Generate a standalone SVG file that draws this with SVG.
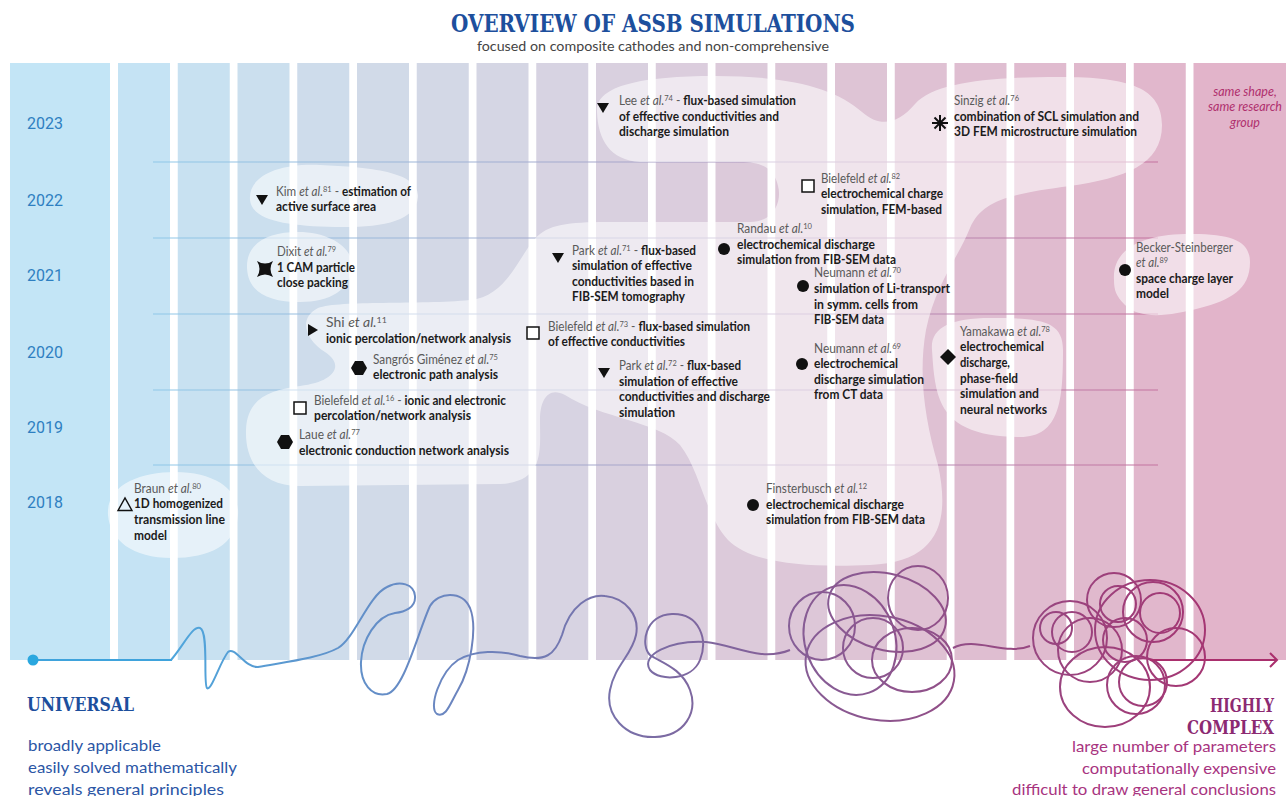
<svg xmlns="http://www.w3.org/2000/svg" width="1286" height="796" viewBox="0 0 1286 796">
<defs>
<style>
.t{font-family:Lato,"Open Sans","Liberation Sans",sans-serif;font-size:12.5px;fill:#5a5a5a}
.b{font-weight:700;fill:#1b1b1b}
.i{font-style:italic}
.sup{font-size:8px}
.yr{font-family:Roboto,"Liberation Sans",sans-serif;font-size:16px;fill:#2e7fc1}
.slab{font-family:"DejaVu Serif Condensed","DejaVu Serif",serif;font-weight:700;font-stretch:condensed}
.blob{fill:#ffffff;fill-opacity:0.55}
.mk{fill:#111}
.mko{fill:#fff;stroke:#111;stroke-width:1.5}
.sq{fill:none;stroke:url(#sg);stroke-width:2}
.yl{stroke:url(#lg);stroke-width:1.2}
</style>
<linearGradient id="lg" gradientUnits="userSpaceOnUse" x1="153" y1="0" x2="1158" y2="0">
<stop offset="0" stop-color="#8fc8e8"/><stop offset="0.5" stop-color="#a9a3c8"/><stop offset="1" stop-color="#c4729f"/>
</linearGradient>
<linearGradient id="sg" gradientUnits="userSpaceOnUse" x1="171" y1="0" x2="1277" y2="0">
<stop offset="0" stop-color="#4fa6dc"/><stop offset="0.25" stop-color="#6b86c0"/><stop offset="0.45" stop-color="#7c6aa2"/><stop offset="0.7" stop-color="#914f88"/><stop offset="1" stop-color="#aa2f6d"/>
</linearGradient>
</defs>
<rect width="1286" height="796" fill="#fff"/>

<!-- title -->
<g id="title">
<text class="slab" x="451" y="32" font-size="25" fill="#1d4f9d" textLength="404" lengthAdjust="spacingAndGlyphs">OVERVIEW OF ASSB SIMULATIONS</text>
<text class="t" x="477" y="51" style="font-size:14px;fill:#444" textLength="352" lengthAdjust="spacingAndGlyphs">focused on composite cathodes and non-comprehensive</text>
</g>

<!-- columns -->
<g id="columns">
<rect x="10" y="63" width="100" height="597" fill="#c3e5f6"/>
<rect x="118" y="63" width="52" height="597" fill="#c5e3f4"/>
<rect x="177.75" y="63" width="52" height="597" fill="#c8e1f1"/>
<rect x="237.5" y="63" width="52" height="597" fill="#cbdfee"/>
<rect x="297.25" y="63" width="52" height="597" fill="#cedceb"/>
<rect x="357" y="63" width="52" height="597" fill="#d1dae8"/>
<rect x="416.75" y="63" width="52" height="597" fill="#d3d8e6"/>
<rect x="476.5" y="63" width="52" height="597" fill="#d5d6e4"/>
<rect x="536.25" y="63" width="52" height="597" fill="#d7d3e2"/>
<rect x="596" y="63" width="52" height="597" fill="#d9d0df"/>
<rect x="655.75" y="63" width="52" height="597" fill="#dbcddd"/>
<rect x="715.5" y="63" width="52" height="597" fill="#dccada"/>
<rect x="775.25" y="63" width="52" height="597" fill="#ddc7d8"/>
<rect x="835" y="63" width="52" height="597" fill="#dec4d5"/>
<rect x="894.75" y="63" width="52" height="597" fill="#dfc1d3"/>
<rect x="954.5" y="63" width="52" height="597" fill="#dfbed1"/>
<rect x="1014.25" y="63" width="52" height="597" fill="#e0bbcf"/>
<rect x="1074" y="63" width="52" height="597" fill="#e0b9cd"/>
<rect x="1133.75" y="63" width="52" height="597" fill="#e1b7cc"/>
<rect x="1193.5" y="63" width="92.5" height="597" fill="#e2b4ca"/>
</g>

<!-- year lines -->
<g id="yearlines">
<line class="yl" x1="153" y1="162" x2="1158" y2="162"/>
<line class="yl" x1="153" y1="238" x2="1158" y2="238"/>
<line class="yl" x1="153" y1="314" x2="1158" y2="314"/>
<line class="yl" x1="153" y1="390" x2="1158" y2="390"/>
<line class="yl" x1="153" y1="465" x2="1158" y2="465"/>
</g>

<!-- blobs -->
<g id="blobs">
<path class="blob" d="M597,112 C595,86 640,76 715,76 C790,76 835,88 862,112 C880,128 898,124 915,104 C935,82 990,77 1060,77 C1130,77 1162,88 1162,125 C1162,165 1125,178 1070,186 C1010,194 982,200 970,228 C958,258 935,285 926,330 C918,375 925,420 938,465 C950,520 940,562 870,565 C800,568 750,562 728,540 C705,515 700,470 680,445 C660,422 600,418 565,395 C548,386 540,400 540,420 C540,450 545,482 500,484 L300,486 C262,486 245,462 246,430 C247,398 270,390 300,386 C335,382 345,365 325,352 C305,340 298,318 318,308 C340,300 420,305 470,300 C510,296 520,250 540,234 C555,222 580,222 620,222 L750,222 C775,222 782,200 778,186 C774,168 762,162 740,162 L640,162 C610,160 598,140 597,112 Z"/>
<path class="blob" d="M108,515 C106,485 140,472 175,472 C215,472 240,490 238,515 C236,545 210,558 172,558 C132,558 110,540 108,515 Z"/>
<path class="blob" d="M250,200 C248,178 275,163 320,165 C370,167 420,172 418,197 C416,222 380,228 335,227 C285,226 252,220 250,200 Z"/>
<path class="blob" d="M247,268 C246,243 268,232 298,232 C330,232 353,248 352,266 C351,290 330,302 300,302 C268,302 248,292 247,268 Z"/>
<path class="blob" d="M932,350 C930,328 950,318 990,318 C1040,318 1063,320 1063,350 C1063,400 1060,437 1020,437 C975,437 950,425 940,400 C934,385 933,365 932,350 Z"/>
<path class="blob" d="M1114,280 C1112,250 1140,235 1185,234 C1230,233 1250,240 1250,262 C1250,290 1230,300 1200,308 C1170,316 1140,320 1125,305 C1116,296 1114,290 1114,280 Z"/>
</g>

<!-- years -->
<g id="years">
<text class="yr" x="27" y="129">2023</text>
<text class="yr" x="27" y="206">2022</text>
<text class="yr" x="27" y="281">2021</text>
<text class="yr" x="27" y="358">2020</text>
<text class="yr" x="27" y="433">2019</text>
<text class="yr" x="27" y="508">2018</text>
</g>

<g id="note">
<text class="t i" x="1245" y="96" text-anchor="middle" style="fill:#b0306e">same shape,</text>
<text class="t i" x="1245" y="111" text-anchor="middle" style="fill:#b0306e">same research</text>
<text class="t i" x="1245" y="127" text-anchor="middle" style="fill:#b0306e">group</text>
</g>

<g id="lee">
<polygon class="mk" points="597,103 609,103 603,113"/>
<text class="t" x="619" y="105" textLength="177" lengthAdjust="spacingAndGlyphs">Lee <tspan class="i">et al.</tspan><tspan class="sup" dy="-4">74</tspan><tspan dy="4"> - </tspan><tspan class="b">flux-based simulation</tspan></text>
<text class="t b" x="619" y="121" textLength="160" lengthAdjust="spacingAndGlyphs">of effective conductivities and</text>
<text class="t b" x="619" y="136" textLength="110" lengthAdjust="spacingAndGlyphs">discharge simulation</text>
</g>

<g id="sinzig">
<g stroke="#111" stroke-width="2"><line x1="932" y1="123" x2="948" y2="123"/><line x1="940" y1="115" x2="940" y2="131"/><line x1="934.5" y1="117.5" x2="945.5" y2="128.5"/><line x1="945.5" y1="117.5" x2="934.5" y2="128.5"/></g>
<text class="t" x="954" y="105" textLength="65" lengthAdjust="spacingAndGlyphs">Sinzig <tspan class="i">et al.</tspan><tspan class="sup" dy="-4">76</tspan></text>
<text class="t b" x="954" y="121" textLength="185" lengthAdjust="spacingAndGlyphs">combination of SCL simulation and</text>
<text class="t b" x="954" y="136" textLength="183" lengthAdjust="spacingAndGlyphs">3D FEM microstructure simulation</text>
</g>

<g id="kim">
<polygon class="mk" points="256,195 268,195 262,205"/>
<text class="t" x="276" y="196" textLength="135" lengthAdjust="spacingAndGlyphs">Kim <tspan class="i">et al.</tspan><tspan class="sup" dy="-4">81</tspan><tspan dy="4"> - </tspan><tspan class="b">estimation of</tspan></text>
<text class="t b" x="276" y="211" textLength="100" lengthAdjust="spacingAndGlyphs">active surface area</text>
</g>

<g id="bielefeld82">
<rect class="mko" x="802" y="180" width="12" height="12"/>
<text class="t" x="821" y="183" textLength="79" lengthAdjust="spacingAndGlyphs">Bielefeld <tspan class="i">et al.</tspan><tspan class="sup" dy="-4">82</tspan></text>
<text class="t b" x="821" y="198" textLength="122" lengthAdjust="spacingAndGlyphs">electrochemical charge</text>
<text class="t b" x="821" y="214" textLength="121" lengthAdjust="spacingAndGlyphs">simulation, FEM-based</text>
</g>

<g id="dixit">
<path class="mk" d="M257,261 Q265,266 273,261 Q268,269 273,277 Q265,272 257,277 Q262,269 257,261 Z"/>
<text class="t" x="277" y="256" textLength="59" lengthAdjust="spacingAndGlyphs">Dixit <tspan class="i">et al.</tspan><tspan class="sup" dy="-4">79</tspan></text>
<text class="t b" x="277" y="272" textLength="78" lengthAdjust="spacingAndGlyphs">1 CAM particle</text>
<text class="t b" x="277" y="287" textLength="71" lengthAdjust="spacingAndGlyphs">close packing</text>
</g>

<g id="randau">
<circle class="mk" cx="724" cy="249" r="6"/>
<text class="t" x="737" y="233" textLength="75" lengthAdjust="spacingAndGlyphs">Randau <tspan class="i">et al.</tspan><tspan class="sup" dy="-4">10</tspan></text>
<text class="t b" x="737" y="249" textLength="138" lengthAdjust="spacingAndGlyphs">electrochemical discharge</text>
<text class="t b" x="737" y="264" textLength="159" lengthAdjust="spacingAndGlyphs">simulation from FIB-SEM data</text>
</g>

<g id="park71">
<polygon class="mk" points="552,253 564,253 558,263"/>
<text class="t" x="572" y="255" textLength="124" lengthAdjust="spacingAndGlyphs">Park <tspan class="i">et al.</tspan><tspan class="sup" dy="-4">71</tspan><tspan dy="4"> - </tspan><tspan class="b">flux-based</tspan></text>
<text class="t b" x="572" y="270" textLength="120" lengthAdjust="spacingAndGlyphs">simulation of effective</text>
<text class="t b" x="572" y="286" textLength="122" lengthAdjust="spacingAndGlyphs">conductivities based in</text>
<text class="t b" x="572" y="301" textLength="113" lengthAdjust="spacingAndGlyphs">FIB-SEM tomography</text>
</g>

<g id="neumann70">
<circle class="mk" cx="803" cy="286" r="6"/>
<text class="t" x="814" y="277" textLength="87" lengthAdjust="spacingAndGlyphs">Neumann <tspan class="i">et al.</tspan><tspan class="sup" dy="-4">70</tspan></text>
<text class="t b" x="814" y="293" textLength="136" lengthAdjust="spacingAndGlyphs">simulation of Li-transport</text>
<text class="t b" x="814" y="309" textLength="104" lengthAdjust="spacingAndGlyphs">in symm. cells from</text>
<text class="t b" x="814" y="324" textLength="70" lengthAdjust="spacingAndGlyphs">FIB-SEM data</text>
</g>

<g id="becker">
<circle class="mk" cx="1125" cy="270" r="6"/>
<text class="t" x="1136" y="252" textLength="97" lengthAdjust="spacingAndGlyphs">Becker-Steinberger</text>
<text class="t" x="1136" y="267" textLength="32" lengthAdjust="spacingAndGlyphs"><tspan class="i">et al.</tspan><tspan class="sup" dy="-4">89</tspan></text>
<text class="t b" x="1136" y="283" textLength="97" lengthAdjust="spacingAndGlyphs">space charge layer</text>
<text class="t b" x="1136" y="298" textLength="33" lengthAdjust="spacingAndGlyphs">model</text>
</g>

<g id="shi">
<polygon class="mk" points="308,324 318,330 308,336"/>
<text class="t" x="326" y="327" textLength="61" lengthAdjust="spacingAndGlyphs">Shi <tspan class="i">et al.</tspan><tspan class="sup" dy="-4">11</tspan></text>
<text class="t b" x="326" y="343" textLength="185" lengthAdjust="spacingAndGlyphs">ionic percolation/network analysis</text>
</g>

<g id="bielefeld73">
<rect class="mko" x="527" y="327" width="12" height="12"/>
<text class="t" x="548" y="331" textLength="202" lengthAdjust="spacingAndGlyphs">Bielefeld <tspan class="i">et al.</tspan><tspan class="sup" dy="-4">73</tspan><tspan dy="4"> - </tspan><tspan class="b">flux-based simulation</tspan></text>
<text class="t b" x="548" y="346" textLength="137" lengthAdjust="spacingAndGlyphs">of effective conductivities</text>
</g>

<g id="sangros">
<polygon class="mk" points="351,368 355,361 363,361 367,368 363,375 355,375"/>
<text class="t" x="373" y="364" textLength="125" lengthAdjust="spacingAndGlyphs">Sangrós Giménez <tspan class="i">et al.</tspan><tspan class="sup" dy="-4">75</tspan></text>
<text class="t b" x="373" y="379" textLength="125" lengthAdjust="spacingAndGlyphs">electronic path analysis</text>
</g>

<g id="neumann69">
<circle class="mk" cx="802" cy="364" r="6"/>
<text class="t" x="814" y="353" textLength="87" lengthAdjust="spacingAndGlyphs">Neumann <tspan class="i">et al.</tspan><tspan class="sup" dy="-4">69</tspan></text>
<text class="t b" x="814" y="368" textLength="84" lengthAdjust="spacingAndGlyphs">electrochemical</text>
<text class="t b" x="814" y="384" textLength="110" lengthAdjust="spacingAndGlyphs">discharge simulation</text>
<text class="t b" x="814" y="399" textLength="69" lengthAdjust="spacingAndGlyphs">from CT data</text>
</g>

<g id="yamakawa">
<polygon class="mk" points="948,349 956,357 948,365 940,357"/>
<text class="t" x="960" y="336" textLength="90" lengthAdjust="spacingAndGlyphs">Yamakawa <tspan class="i">et al.</tspan><tspan class="sup" dy="-4">78</tspan></text>
<text class="t b" x="960" y="351" textLength="84" lengthAdjust="spacingAndGlyphs">electrochemical</text>
<text class="t b" x="960" y="367" textLength="50" lengthAdjust="spacingAndGlyphs">discharge,</text>
<text class="t b" x="960" y="383" textLength="58" lengthAdjust="spacingAndGlyphs">phase-field</text>
<text class="t b" x="960" y="398" textLength="79" lengthAdjust="spacingAndGlyphs">simulation and</text>
<text class="t b" x="960" y="414" textLength="87" lengthAdjust="spacingAndGlyphs">neural networks</text>
</g>

<g id="park72">
<polygon class="mk" points="598,368 610,368 604,378"/>
<text class="t" x="619" y="370" textLength="122" lengthAdjust="spacingAndGlyphs">Park <tspan class="i">et al.</tspan><tspan class="sup" dy="-4">72</tspan><tspan dy="4"> - </tspan><tspan class="b">flux-based</tspan></text>
<text class="t b" x="619" y="386" textLength="119" lengthAdjust="spacingAndGlyphs">simulation of effective</text>
<text class="t b" x="619" y="401" textLength="151" lengthAdjust="spacingAndGlyphs">conductivities and discharge</text>
<text class="t b" x="619" y="417" textLength="56" lengthAdjust="spacingAndGlyphs">simulation</text>
</g>

<g id="bielefeld16">
<rect class="mko" x="294" y="402" width="12" height="12"/>
<text class="t" x="314" y="405" textLength="192" lengthAdjust="spacingAndGlyphs">Bielefeld <tspan class="i">et al.</tspan><tspan class="sup" dy="-4">16</tspan><tspan dy="4"> - </tspan><tspan class="b">ionic and electronic</tspan></text>
<text class="t b" x="314" y="420" textLength="157" lengthAdjust="spacingAndGlyphs">percolation/network analysis</text>
</g>

<g id="laue">
<polygon class="mk" points="277,442 281,435 289,435 293,442 289,449 281,449"/>
<text class="t" x="299" y="439" textLength="61" lengthAdjust="spacingAndGlyphs">Laue <tspan class="i">et al.</tspan><tspan class="sup" dy="-4">77</tspan></text>
<text class="t b" x="299" y="455" textLength="210" lengthAdjust="spacingAndGlyphs">electronic conduction network analysis</text>
</g>

<g id="finsterbusch">
<circle class="mk" cx="753" cy="505" r="6"/>
<text class="t" x="766" y="493" textLength="101" lengthAdjust="spacingAndGlyphs">Finsterbusch <tspan class="i">et al.</tspan><tspan class="sup" dy="-4">12</tspan></text>
<text class="t b" x="766" y="509" textLength="138" lengthAdjust="spacingAndGlyphs">electrochemical discharge</text>
<text class="t b" x="766" y="524" textLength="159" lengthAdjust="spacingAndGlyphs">simulation from FIB-SEM data</text>
</g>

<g id="braun">
<polygon points="118,510.5 132,510.5 125,498" fill="none" stroke="#111" stroke-width="1.4"/>
<text class="t" x="134" y="493" textLength="67" lengthAdjust="spacingAndGlyphs">Braun <tspan class="i">et al.</tspan><tspan class="sup" dy="-4">80</tspan></text>
<text class="t b" x="134" y="508" textLength="89" lengthAdjust="spacingAndGlyphs">1D homogenized</text>
<text class="t b" x="134" y="524" textLength="91" lengthAdjust="spacingAndGlyphs">transmission line</text>
<text class="t b" x="134" y="540" textLength="33" lengthAdjust="spacingAndGlyphs">model</text>
</g>

<!-- timeline / connector -->
<g id="connectors">
<line x1="33" y1="660" x2="172" y2="660" stroke="#3fa3dc" stroke-width="2"/>
<circle cx="33" cy="660" r="5.5" fill="#2aa7df"/>
<path class="sq" d="M171,660 C184,645 192,626 200,628 C209,631 203,684 207,688 C211,692 220,662 228,652 C235,646 245,668 258,667 C285,662 320,658 338,648 C355,638 368,596 387,587 C400,580 414,584 415,596 C416,608 404,612 395,613 C376,616 362,640 361,662 C360,684 372,697 387,694 C404,690 418,632 430,606 C438,592 462,590 470,608 C478,628 470,670 458,690 C450,704 446,718 437,714 C428,708 440,672 458,660 C475,650 500,650 520,656 C545,662 555,655 562,635 C570,605 590,594 605,596 C625,598 640,615 636,635 C632,655 615,665 610,690 C605,715 625,738 655,737 C685,736 698,712 690,690 C682,668 660,662 650,655 C640,645 645,615 672,614 C700,613 708,640 700,660 C692,680 660,682 650,670 C640,655 670,640 706,642 C735,645 760,662 790,650"/>
<ellipse class="sq" cx="822" cy="626" rx="33" ry="34"/>
<ellipse class="sq" cx="887" cy="612" rx="60" ry="38" transform="rotate(15 887 612)"/>
<ellipse class="sq" cx="918" cy="598" rx="30" ry="32"/>
<ellipse class="sq" cx="880" cy="668" rx="75" ry="52" transform="rotate(10 880 668)"/>
<ellipse class="sq" cx="873" cy="648" rx="30" ry="30"/>
<ellipse class="sq" cx="912" cy="660" rx="40" ry="32"/>
<ellipse class="sq" cx="850" cy="640" rx="45" ry="56" transform="rotate(-20 850 640)"/>
<path class="sq" d="M953,648 C975,636 1005,656 1030,646"/>
<circle class="sq" cx="1070" cy="638" r="37"/>
<circle class="sq" cx="1072" cy="632" r="20"/>
<circle class="sq" cx="1114" cy="600" r="27"/>
<circle class="sq" cx="1153" cy="612" r="30"/>
<circle class="sq" cx="1160" cy="613" r="20"/>
<ellipse class="sq" cx="1105" cy="687" rx="45" ry="40"/>
<circle class="sq" cx="1136" cy="685" r="29"/>
<circle class="sq" cx="1176" cy="657" r="29"/>
<ellipse class="sq" cx="1150" cy="630" rx="55" ry="50"/>
<circle class="sq" cx="1143" cy="682" r="24"/>
<circle class="sq" cx="1090" cy="650" r="32"/>
<circle class="sq" cx="1125" cy="640" r="22"/>
<circle class="sq" cx="1056" cy="628" r="16"/>
<circle class="sq" cx="1118" cy="604" r="18"/>
<line x1="1150" y1="660" x2="1277" y2="660" stroke="#aa2f6d" stroke-width="2"/>
<polyline points="1270,653 1277,660 1270,667" fill="none" stroke="#aa2f6d" stroke-width="2"/>
</g>

<g id="universal">
<text class="slab" x="27" y="711" font-size="19" fill="#1d4f9d" textLength="107" lengthAdjust="spacingAndGlyphs">UNIVERSAL</text>
<text class="t" x="28" y="751" style="font-size:16px;fill:#2c56a5" textLength="133" lengthAdjust="spacingAndGlyphs">broadly applicable</text>
<text class="t" x="28" y="773" style="font-size:16px;fill:#2c56a5" textLength="209" lengthAdjust="spacingAndGlyphs">easily solved mathematically</text>
<text class="t" x="28" y="795" style="font-size:16px;fill:#2c56a5" textLength="196" lengthAdjust="spacingAndGlyphs">reveals general principles</text>
</g>

<g id="complex">
<text class="slab" x="1274" y="712" font-size="19" fill="#8c2a72" text-anchor="end" textLength="64" lengthAdjust="spacingAndGlyphs">HIGHLY</text>
<text class="slab" x="1274" y="734" font-size="19" fill="#8c2a72" text-anchor="end" textLength="87" lengthAdjust="spacingAndGlyphs">COMPLEX</text>
<text class="t" x="1276" y="752" text-anchor="end" style="font-size:16px;fill:#a8347f" textLength="204" lengthAdjust="spacingAndGlyphs">large number of parameters</text>
<text class="t" x="1276" y="774" text-anchor="end" style="font-size:16px;fill:#a8347f" textLength="194" lengthAdjust="spacingAndGlyphs">computationally expensive</text>
<text class="t" x="1276" y="795" text-anchor="end" style="font-size:16px;fill:#a8347f" textLength="264" lengthAdjust="spacingAndGlyphs">difficult to draw general conclusions</text>
</g>
</svg>
